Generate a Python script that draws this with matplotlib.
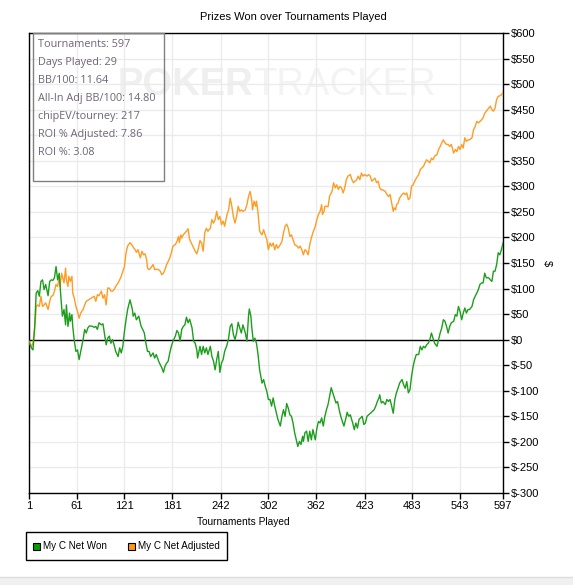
import matplotlib
matplotlib.use('Agg')
import matplotlib.pyplot as plt
from matplotlib.patches import Rectangle

# --- données ---
won_x = [1, 4, 6, 8, 10, 12, 14, 16, 18, 20, 22, 25, 27, 29, 31, 33, 35, 37, 39, 41,
         43, 45, 47, 48, 50, 52, 53, 55, 56, 58, 60, 62, 64, 66, 69, 71, 73, 75, 77, 81,
         83, 85, 87, 89, 92, 94, 96, 98, 100, 102, 104, 106, 108, 110, 113, 115, 117, 119, 121, 123,
         125, 128, 131, 132, 134, 136, 139, 142, 144, 146, 148, 150, 152, 154, 157, 159, 161, 164, 166, 168,
         170, 172, 174, 176, 178, 180, 182, 185, 187, 189, 191, 193, 195, 197, 199, 201, 203, 206, 208, 210,
         212, 213, 215, 216, 218, 220, 222, 224, 226, 229, 231, 233, 235, 237, 239, 241, 243, 245, 247, 250,
         252, 254, 256, 258, 260, 262, 264, 266, 268, 270, 273, 275, 277, 278, 280, 281, 283, 285, 287, 289,
         291, 294, 296, 298, 300, 302, 304, 306, 308, 310, 312, 314, 317, 319, 321, 323, 325, 327, 329, 331,
         333, 335, 338, 339, 341, 343, 345, 346, 348, 350, 352, 354, 356, 358, 361, 363, 365, 367, 369, 371,
         373, 375, 377, 379, 381, 383, 385, 387, 389, 391, 393, 395, 397, 400, 401, 403, 405, 408, 410, 412,
         414, 416, 418, 420, 422, 424, 426, 428, 431, 433, 435, 437, 439, 441, 442, 444, 446, 449, 451, 453,
         455, 457, 459, 461, 463, 465, 467, 470, 472, 474, 476, 478, 480, 482, 484, 486, 488, 491, 493, 495,
         497, 499, 501, 503, 505, 507, 509, 511, 514, 516, 518, 520, 522, 524, 526, 528, 530, 532, 535, 537,
         539, 541, 543, 545, 547, 549, 551, 553, 555, 558, 560, 562, 564, 566, 568, 570, 572, 574, 576, 579,
         581, 583, 585, 587, 589, 591, 593, 595, 597]
won_y = [-5, -16, -20, 20, 91, 96, 85, 114, 117, 98, 108, 86, 114, 117, 116, 121, 143, 117, 130, 85,
         46, 59, 29, 68, 26, 52, 36, 49, 26, -3, -23, -20, -39, -23, 0, 20, 13, 23, 27, 26,
         24, 26, 20, 33, 29, 31, 10, -10, 3, 7, -7, 0, -10, -23, -33, -16, -26, -13, 16, 39,
         59, 78, 59, 46, 52, 39, 46, 26, 20, 13, -7, -23, -23, -33, -26, -36, -29, -42, -49, -55,
         -64, -52, -46, -42, -26, -13, -3, 7, 18, 13, -3, 20, 26, 29, 44, 33, 40, 23, -3, -7,
         -20, -36, -20, -13, -29, -13, -26, -16, -29, -13, -33, -42, -59, -39, -23, -64, -46, -39, -23, -10,
         3, 26, 31, 10, 0, 13, 34, 23, 13, 29, 13, -3, 46, 60, 46, 26, -3, 3, -7, -29,
         -59, -85, -78, -91, -101, -117, -117, -130, -114, -130, -143, -156, -169, -150, -137, -150, -125, -134, -147, -150,
         -163, -182, -202, -209, -199, -205, -189, -199, -182, -179, -199, -179, -196, -176, -196, -173, -160, -163, -153, -169,
         -150, -137, -127, -111, -94, -104, -114, -124, -121, -137, -150, -160, -169, -150, -142, -150, -147, -163, -176, -163,
         -173, -156, -153, -150, -166, -163, -150, -147, -143, -140, -137, -130, -121, -114, -108, -124, -121, -127, -117, -121,
         -117, -130, -144, -117, -104, -95, -85, -78, -88, -95, -82, -104, -98, -72, -52, -39, -29, -29, -13, -20,
         -13, -16, -10, -7, 0, 13, 3, -7, -13, 0, 13, 23, 39, 36, 26, 13, 26, 33, 36, 49,
         46, 65, 55, 39, 52, 62, 52, 59, 59, 65, 78, 85, 91, 98, 108, 111, 111, 130, 121, 121,
         117, 114, 134, 134, 147, 170, 166, 176, 189]

adj_x = [1, 4, 6, 7, 9, 10, 12, 14, 16, 18, 20, 22, 25, 27, 29, 31, 33, 35, 37, 39,
         40, 42, 44, 45, 47, 48, 50, 51, 53, 55, 56, 58, 60, 62, 64, 66, 69, 71, 73, 75,
         77, 79, 81, 83, 85, 87, 89, 92, 94, 96, 98, 100, 102, 104, 106, 108, 110, 113, 115, 117,
         119, 121, 123, 125, 128, 131, 132, 134, 136, 138, 141, 143, 145, 147, 149, 150, 152, 154, 157, 159,
         161, 164, 166, 168, 170, 172, 174, 176, 178, 180, 182, 185, 187, 189, 190, 192, 193, 195, 197, 199,
         201, 203, 206, 208, 210, 212, 214, 216, 218, 220, 222, 224, 226, 229, 231, 233, 235, 237, 239, 241,
         243, 245, 247, 250, 252, 254, 256, 258, 260, 262, 264, 266, 268, 270, 273, 275, 277, 279, 281, 282,
         284, 286, 287, 289, 291, 294, 296, 298, 300, 302, 304, 306, 308, 310, 312, 314, 317, 319, 321, 323,
         325, 327, 329, 331, 333, 335, 338, 340, 342, 344, 346, 348, 350, 352, 354, 356, 358, 361, 363, 365,
         367, 369, 370, 372, 373, 375, 377, 379, 382, 384, 386, 388, 390, 392, 394, 396, 398, 400, 402, 405,
         407, 409, 411, 413, 415, 417, 419, 421, 423, 426, 428, 430, 432, 434, 436, 438, 440, 442, 444, 446,
         449, 451, 453, 455, 457, 459, 460, 462, 463, 465, 467, 470, 472, 474, 476, 478, 480, 482, 484, 486,
         488, 491, 493, 495, 497, 499, 501, 503, 505, 507, 509, 511, 514, 516, 518, 520, 522, 524, 526, 528,
         530, 532, 535, 537, 539, 541, 543, 545, 547, 549, 551, 553, 555, 558, 560, 562, 564, 566, 568, 570,
         572, 574, 576, 579, 581, 583, 585, 587, 589, 591, 593, 595, 597]
adj_y = [-3, -13, -7, 7, 39, 65, 68, 65, 85, 65, 68, 72, 59, 75, 85, 86, 95, 108, 104, 124,
         104, 130, 117, 111, 140, 117, 104, 124, 114, 124, 91, 81, 65, 55, 42, 52, 59, 68, 75, 77,
         79, 81, 83, 85, 75, 88, 86, 95, 81, 88, 68, 101, 101, 95, 95, 98, 104, 111, 117, 124,
         134, 143, 170, 183, 190, 184, 181, 177, 171, 176, 160, 173, 166, 168, 156, 140, 137, 140, 147, 137,
         138, 137, 134, 127, 130, 137, 147, 153, 160, 170, 183, 186, 192, 202, 190, 205, 199, 205, 209, 212,
         217, 196, 186, 179, 173, 168, 179, 194, 189, 173, 209, 218, 212, 218, 235, 228, 235, 251, 235, 241,
         225, 232, 222, 245, 254, 277, 261, 241, 228, 241, 261, 251, 254, 251, 254, 264, 280, 290, 274, 254,
         271, 261, 271, 248, 212, 205, 215, 205, 196, 176, 189, 183, 189, 176, 186, 179, 186, 192, 209, 222,
         226, 218, 202, 205, 196, 186, 183, 179, 183, 176, 166, 176, 173, 166, 186, 199, 209, 222, 235, 245,
         251, 264, 245, 251, 261, 261, 260, 281, 290, 307, 297, 303, 294, 300, 297, 287, 297, 313, 320, 323,
         313, 307, 310, 313, 320, 313, 326, 320, 323, 320, 323, 320, 310, 313, 316, 307, 310, 297, 293, 293,
         290, 284, 280, 284, 267, 251, 258, 254, 264, 267, 277, 284, 287, 284, 287, 274, 277, 300, 303, 310,
         316, 323, 333, 336, 339, 346, 352, 349, 346, 355, 352, 359, 362, 372, 378, 385, 391, 385, 382, 382,
         378, 382, 365, 372, 368, 378, 372, 382, 375, 395, 388, 391, 391, 395, 411, 417, 427, 424, 427, 430,
         434, 443, 447, 453, 457, 450, 447, 453, 470, 476, 477, 479, 484]

x_ticks = [1, 61, 121, 181, 242, 302, 362, 423, 483, 543, 597]
y_ticks = list(range(-300, 601, 50))

stats = ["Tournaments: 597", "Days Played: 29", "BB/100: 11.64",
         "All-In Adj BB/100: 14.80", "chipEV/tourney: 217",
         "ROI % Adjusted: 7.86", "ROI %: 3.08"]

title = "Prizes Won over Tournaments Played"
x_label = "Tournaments Played"
series_names = ["My C Net Won", "My C Net Adjusted"]
GREEN = '#1c9e1c'
ORANGE = '#ff9c24'

W, H = 573, 585
fig = plt.figure(figsize=(W / 100, H / 100), dpi=100)
fig.patch.set_facecolor('white')

def fx(px):
    return px / W

def fy(py):
    return 1 - py / H

ax = fig.add_axes([fx(29), fy(493), fx(503) - fx(29), fy(33) - fy(493)])
ax.set_xlim(1, 597)
ax.set_ylim(-300, 600)

# filigrane (très pâle)
ax.text(0.186, 0.888, "POKER", transform=ax.transAxes, fontsize=27.5, fontweight='bold',
        color='#efefef', family='Liberation Sans', ha='left', va='center', zorder=0)
ax.text(0.473, 0.888, "TRACKER", transform=ax.transAxes, fontsize=27.5,
        color='#f3f3f3', family='Liberation Sans', ha='left', va='center', zorder=0)

for t in x_ticks:
    ax.axvline(t, color='#ebebeb', lw=1, zorder=1)
for v in y_ticks:
    ax.axhline(v, color='#ebebeb', lw=1, zorder=1)
ax.axhline(0, color='black', lw=1, zorder=2)

ax.plot(adj_x, adj_y, color=ORANGE, lw=1, zorder=3)
ax.plot(won_x, won_y, color=GREEN, lw=1, zorder=4)

ax.set_xticks(x_ticks)
ax.set_xticklabels([str(t) for t in x_ticks])
ax.set_yticks(y_ticks)
ax.set_yticklabels(['$' + str(v) for v in y_ticks])
ax.yaxis.tick_right()
ax.yaxis.set_label_position('right')
ax.tick_params(axis='both', length=4, width=1, color='black', labelsize=8, pad=2)
for lab in ax.get_xticklabels() + ax.get_yticklabels():
    lab.set_family('Liberation Sans')
ax.set_ylabel('$', fontsize=8, family='Liberation Sans', rotation=270, labelpad=9)
for s in ax.spines.values():
    s.set_color('black')
    s.set_linewidth(1)

fig.text(fx(293), fy(17), title, fontsize=8, family='Liberation Sans', ha='center', va='center')
fig.text(fx(243), fy(522), x_label, fontsize=7.3, family='Liberation Sans', ha='center', va='center')

# encadré des statistiques
fig.patches.append(Rectangle((fx(33), fy(181)), fx(164) - fx(33), fy(33) - fy(181),
                             transform=fig.transFigure, fill=False, edgecolor='#808080', lw=1, zorder=5))
for i, s in enumerate(stats):
    fig.text(fx(38), fy(44.5 + 18 * i), s, fontsize=7.8, family='Open Sans', color='#6f6478',
             ha='left', va='center', zorder=6)

# légende
fig.patches.append(Rectangle((fx(26), fy(560)), fx(227) - fx(26), fy(532) - fy(560),
                             transform=fig.transFigure, fill=False, edgecolor='black', lw=1))
for x0, name, col in [(33, series_names[0], '#00a000'), (128, series_names[1], '#ff9a10')]:
    fig.patches.append(Rectangle((fx(x0), fy(550)), fx(7), fy(0) - fy(7),
                                 transform=fig.transFigure, facecolor=col, edgecolor='black', lw=0.8))
    fig.text(fx(x0 + 10), fy(546), name, fontsize=7.1, family='Liberation Sans', ha='left', va='center')

# bande grise du bas
fig.patches.append(Rectangle((0, 0), 1, fy(577), transform=fig.transFigure,
                             facecolor='#f0f0f0', edgecolor='none'))
fig.lines.append(plt.Line2D([0, 1], [fy(577), fy(577)], transform=fig.transFigure,
                            color='#dcdcdc', lw=1))

fig.savefig('out.png', dpi=100)
